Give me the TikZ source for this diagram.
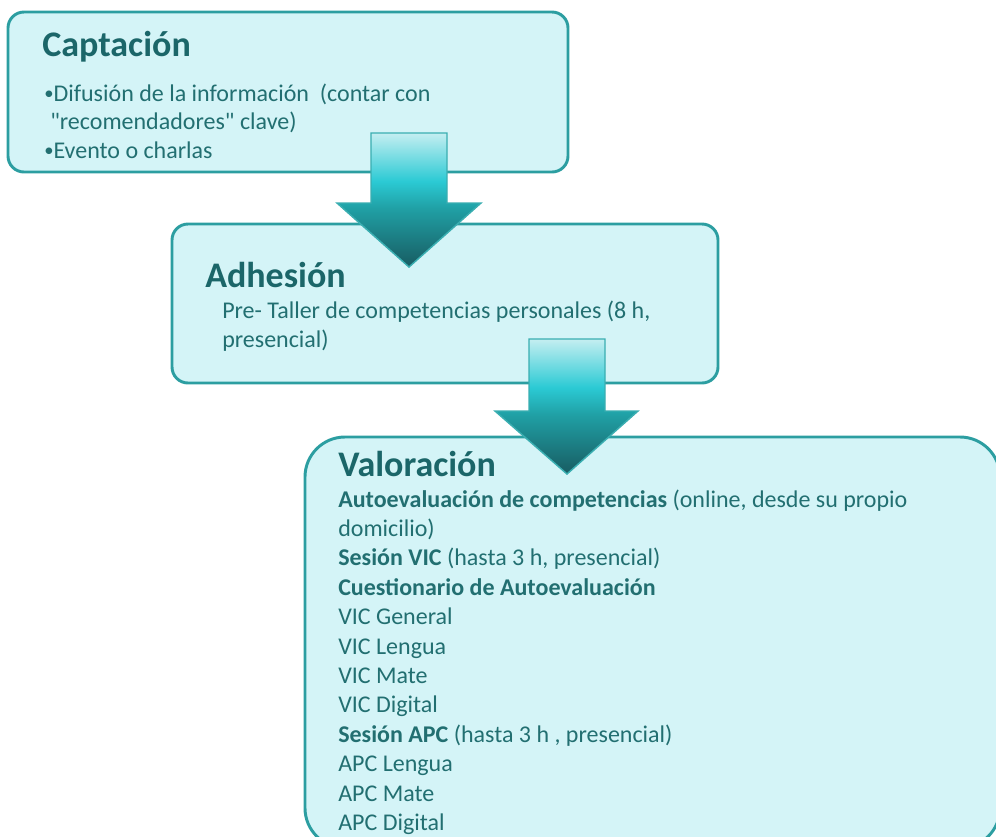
\documentclass[tikz,border=0pt]{standalone}
\usepackage{fontspec}
\setmainfont{Carlito}[Ligatures=TeXOff]
\usepackage{tikz}

\definecolor{boxfill}{HTML}{D4F4F7}
\definecolor{boxline}{HTML}{2C9EA1}
\definecolor{titletext}{HTML}{1B6669}
\definecolor{bodytext}{HTML}{226F71}
\definecolor{arrowline}{HTML}{3AAEB1}
\definecolor{arrowlight}{HTML}{C4EEF1}
\definecolor{arrowcyan}{HTML}{2BCAD4}
\definecolor{arrowmid}{HTML}{20A0A5}
\definecolor{arrowdark}{HTML}{185C62}

\pgfdeclareverticalshading{arrowshade}{100bp}{color(0bp)=(arrowdark); color(25bp)=(arrowdark); color(47bp)=(arrowmid); color(57bp)=(arrowcyan); color(75bp)=(arrowlight); color(100bp)=(arrowlight)}

\newcommand{\stagebullet}{\raisebox{1pt}{\fontsize{14}{14}\selectfont •}}

\tikzset{
    stagebox/.style={draw=boxline, fill=boxfill, line width=2.2pt},
    downarrow/.style={shade, shading=arrowshade, draw=arrowline, line width=1.1pt},
    stagetitle/.style={anchor=base west, inner sep=0pt, text=titletext, font=\fontsize{27}{32}\selectfont\bfseries},
    stagetext/.style={anchor=base west, inner sep=0pt, text=bodytext, font=\fontsize{18}{22}\selectfont},
}

\begin{document}
\begin{tikzpicture}[x=0.75pt,y=0.75pt,yscale=-1,xscale=1]
    \useasboundingbox (0,0) rectangle (996,836);
    \clip (0,0) rectangle (996,836);

    % stage boxes
    \draw [stagebox, rounded corners=12pt] (8,12) rectangle (568,172);
    \draw [stagebox, rounded corners=12pt] (172,224) rectangle (718,383);
    \draw [stagebox, rounded corners=30pt] (305,437) rectangle (1000,848);

    % block arrows between the stages
    \draw [downarrow] (371,133) -- (447,133) -- (447,203) -- (481,203) -- (409,267) -- (337,203) -- (371,203) -- cycle;
    \draw [downarrow] (529,339) -- (605,339) -- (605,411) -- (638,411) -- (567,474) -- (495,411) -- (529,411) -- cycle;

    % Captacion
    \node [stagetitle] (captTitle) at (42,56) {Captación};
    \node [stagetext] (captA) at (44,101) {\stagebullet Difusión de la información~ (contar con};
    \node [stagetext] (captB) at (50,129) {"recomendadores" clave)};
    \node [stagetext] (captC) at (44,158) {\stagebullet Evento o charlas};

    % Adhesion
    \node [stagetitle] (adhTitle) at (205,287) {Adhesión};
    \node [stagetext] (adhA) at (222,318) {Pre- Taller de competencias personales (8 h,};
    \node [stagetext] (adhB) at (222,347) {presencial)};

    % Valoracion
    \node [stagetitle] (valTitle) at (338,476) {Valoración};
    \foreach \txt [count=\i] in {%
        {\textbf{Autoevaluación de competencias} (online, desde su propio},
        {domicilio)},
        {\textbf{Sesión VIC} (hasta 3 h, presencial)},
        {\textbf{Cuestionario de Autoevaluación}},
        {VIC General},
        {VIC Lengua},
        {VIC Mate},
        {VIC Digital},
        {\textbf{Sesión APC} (hasta 3 h , presencial)},
        {APC Lengua},
        {APC Mate},
        {APC Digital}}
        \node [stagetext] (val\i) at (338,{507+29.4*(\i-1)}) {\txt};

\end{tikzpicture}
\end{document}
